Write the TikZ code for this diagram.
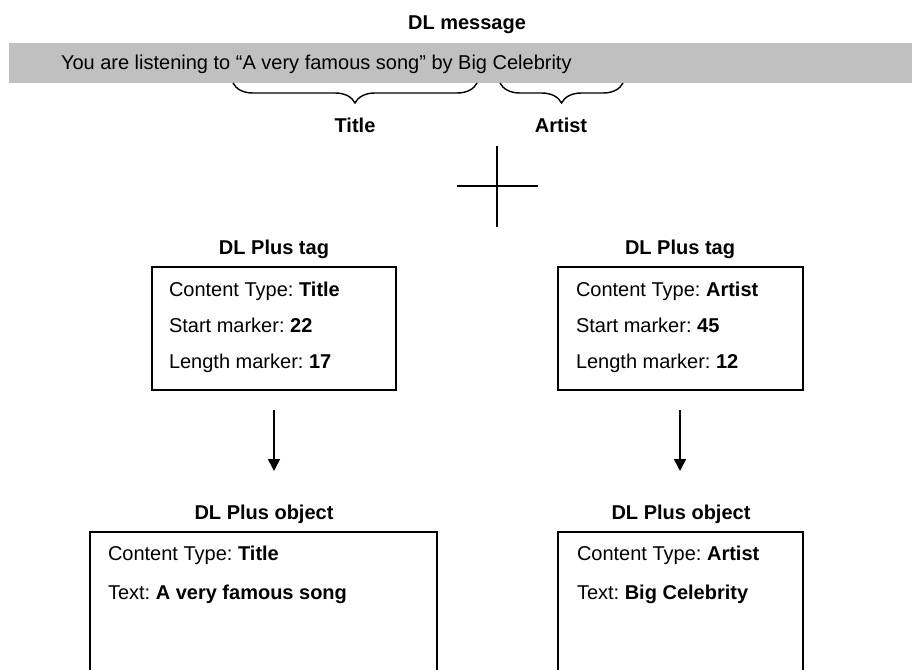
\documentclass[tikz,border=0pt]{standalone}
\usepackage{fontspec}
\setmainfont{Liberation Sans}
\usetikzlibrary{arrows.meta,decorations.pathreplacing}
\definecolor{barfill}{RGB}{192,192,192}
\frenchspacing
\begin{document}
\begin{tikzpicture}[x=1pt,y=-1pt,
  every node/.style={font=\fontsize{20}{24}\selectfont, inner sep=0pt, outer sep=0pt},
  lbl/.style={anchor=base, font=\fontsize{20}{24}\selectfont\bfseries},
  line/.style={anchor=base west},
  boxframe/.style={draw=black, line width=1.6pt},
  bracestyle/.style={draw=black, line width=1.4pt, decorate, decoration={brace, amplitude=20pt}},
  flow/.style={draw=black, line width=1.6pt, -{Triangle[length=12pt,width=12pt]}},
  crossline/.style={draw=black, line width=1.6pt}]
\useasboundingbox (0,0) rectangle (912,669);

% top message
\node[lbl] (msgtitle) at (467,30) {DL message};
\fill[barfill] (9,43) rectangle (912,83);
\node[line] (msg) at (61,70) {You are listening to “A very famous song” by Big Celebrity};

% braces
\coordinate (tbR) at (477,83);
\coordinate (tbL) at (233,83);
\coordinate (abR) at (623,83);
\coordinate (abL) at (500,83);
\draw[bracestyle] (tbR) -- (tbL);
\draw[bracestyle] (abR) -- (abL);
\node[lbl] (titlelbl) at (355,132) {Title};
\node[lbl] (artistlbl) at (561,132) {Artist};

% cross
\coordinate (ch1) at (457,186);
\coordinate (ch2) at (538,186);
\coordinate (cv1) at (497,146);
\coordinate (cv2) at (497,227);
\draw[crossline] (ch1) -- (ch2);
\draw[crossline] (cv1) -- (cv2);

% tag boxes
\node[lbl] (tagLlbl) at (274,254) {DL Plus tag};
\node[lbl] (tagRlbl) at (680,254) {DL Plus tag};
\draw[boxframe] (152,267) rectangle (396,390);
\draw[boxframe] (558,267) rectangle (803,390);
\node[line] (tagL1) at (169,296) {Content Type: \textbf{Title}};
\node[line] (tagL2) at (169,332) {Start marker: \textbf{22}};
\node[line] (tagL3) at (169,368) {Length marker: \textbf{17}};
\node[line] (tagR1) at (576,296) {Content Type: \textbf{Artist}};
\node[line] (tagR2) at (576,332) {Start marker: \textbf{45}};
\node[line] (tagR3) at (576,368) {Length marker: \textbf{12}};

% arrows
\coordinate (aL1) at (274,410);
\coordinate (aL2) at (274,471);
\coordinate (aR1) at (680,410);
\coordinate (aR2) at (680,471);
\draw[flow] (aL1) -- (aL2);
\draw[flow] (aR1) -- (aR2);

% object boxes
\node[lbl] (objLlbl) at (264,519) {DL Plus object};
\node[lbl] (objRlbl) at (681,519) {DL Plus object};
\draw[boxframe] (90,672) -- (90,532) -- (437,532) -- (437,672);
\draw[boxframe] (558,672) -- (558,532) -- (803,532) -- (803,672);
\node[line] (objL1) at (108,560) {Content Type: \textbf{Title}};
\node[line] (objL2) at (108,599) {Text: \textbf{A very famous song}};
\node[line] (objR1) at (577,560) {Content Type: \textbf{Artist}};
\node[line] (objR2) at (577,599) {Text: \textbf{Big Celebrity}};
\end{tikzpicture}
\end{document}
